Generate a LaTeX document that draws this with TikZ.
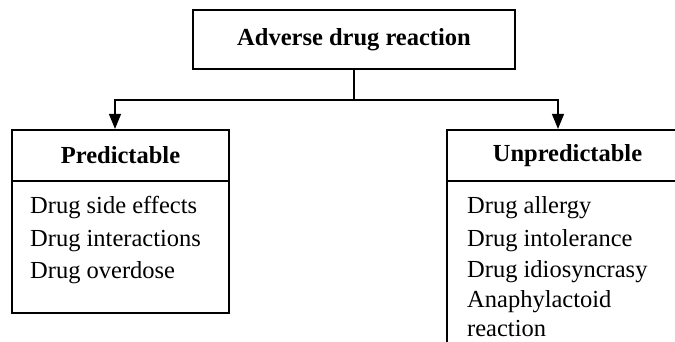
\documentclass[tikz,border=0pt]{standalone}
\usepackage{fontspec}
\setmainfont{Liberation Serif}
\usetikzlibrary{arrows.meta}
\begin{document}
\begin{tikzpicture}[x=1pt,y=-1pt,
  box/.style={draw, line width=2.2pt, inner sep=0pt},
  head/.style={box, font=\fontsize{24.5}{28}\selectfont\bfseries},
  item/.style={anchor=base west, inner sep=0pt, font=\fontsize{24.5}{28}\selectfont},
  conn/.style={line width=1.4pt, -{Triangle[length=15pt,width=12pt]}}]
\useasboundingbox (0,0) rectangle (675,342);
\begin{scope}
\clip (0,0) rectangle (675,342);
\node[head, minimum width=322pt, minimum height=59pt] (title) at (354,39.5) {Adverse drug reaction};
\node[head, minimum width=217pt, minimum height=51pt] (predh) at (120.5,155.5) {Predictable};
\node[box, minimum width=217pt, minimum height=132pt] (predb) at (120.5,247) {};
\node[head, minimum width=241pt, minimum height=51pt] (unph) at (567.5,155.5) {Unpredictable};
\node[box, minimum width=241pt, minimum height=200pt] (unpb) at (567.5,281) {};
\draw[conn] (title.south) -- ++(0,30) -| ([xshift=-5.5pt]predh.north);
\draw[conn] (title.south) -- ++(0,30) -| ([xshift=-9.5pt]unph.north);
\node[item] (p1) at (30,214) {Drug side effects};
\node[item] (p2) at (30,246) {Drug interactions};
\node[item] (p3) at (30,278) {Drug overdose};
\node[item] (u1) at (467,214) {Drug allergy};
\node[item] (u2) at (467,246) {Drug intolerance};
\node[item] (u3) at (467,277) {Drug idiosyncrasy};
\node[item] (u4) at (467,307) {Anaphylactoid};
\node[item] (u5) at (467,336) {reaction};
\end{scope}
\end{tikzpicture}
\end{document}
